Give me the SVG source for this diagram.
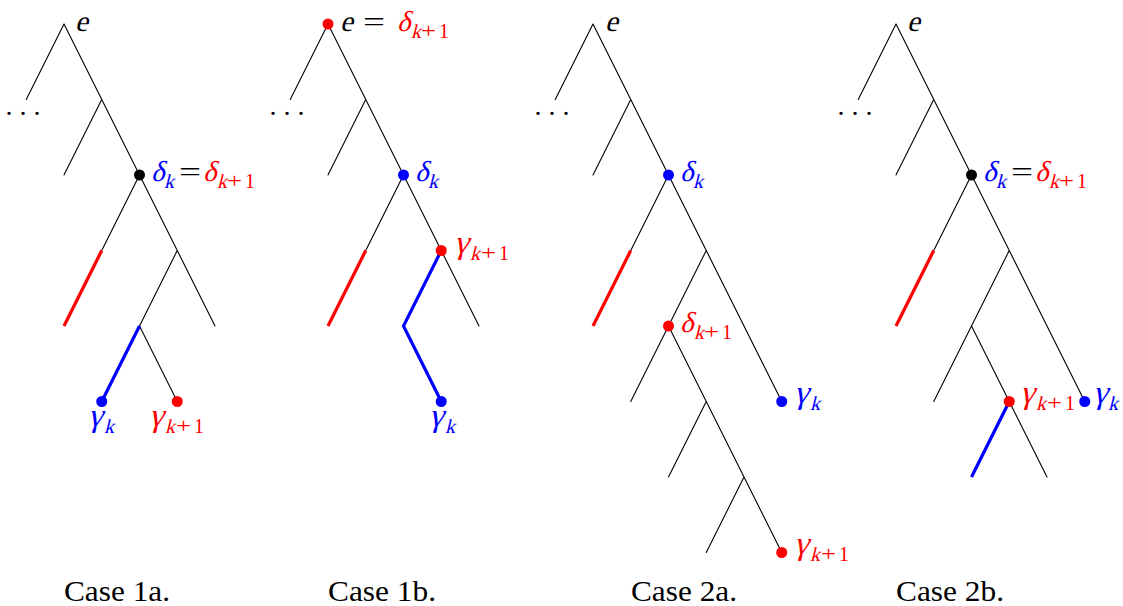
<svg xmlns="http://www.w3.org/2000/svg" width="1123" height="606" viewBox="0 0 1123 606">
<style>
.e{fill:none;stroke:#000;stroke-width:1.1;stroke-linecap:round;stroke-linejoin:round}
.r{fill:none;stroke:#ff0000;stroke-width:3.2}
.b{fill:none;stroke:#0000ff;stroke-width:3.2;stroke-linejoin:miter}
.dk{fill:#000}.dr{fill:#ff0000}.db{fill:#0000ff}
text{font-family:"Liberation Serif","Times New Roman",serif;font-style:normal}
.g{font-size:29px}
.gg{font-size:33px}
.gs{font-size:20px}
.u{font-size:28px}
.su{font-size:20px}
.cap{font-size:29px}
.R{fill:#ff0000}.B{fill:#0000ff}.K{fill:#000}
</style>
<rect width="1123" height="606" fill="#fff"/>

<g id="connectors">
  <!-- Case 1a, root 64 -->
  <path class="e" d="M64,24 L26.25,99.5 M64,24 L139.5,175 M101.75,99.5 L64,175 M139.5,175 L101.75,250.5 M139.5,175 L215,326 M177.25,250.5 L139.5,326 L177.25,401.5"/>
  <path class="r" d="M101.75,250.5 L64,326"/>
  <path class="b" d="M139.5,326 L101.75,401.5"/>
  <!-- Case 1b, root 328 -->
  <path class="e" d="M328,24 L290.25,99.5 M328,24 L403.5,175 M365.75,99.5 L328,175 M403.5,175 L365.75,250.5 M403.5,175 L479,326"/>
  <path class="r" d="M365.75,250.5 L328,326"/>
  <path class="b" d="M441.25,250.5 L403.5,326 L441.25,401.5"/>
  <!-- Case 2a, root 593 -->
  <path class="e" d="M593,24 L555.25,99.5 M593,24 L668.5,175 M630.75,99.5 L593,175 M668.5,175 L630.75,250.5 M668.5,175 L781.75,401.5 M706.25,250.5 L668.5,326 L630.75,401.5 M668.5,326 L781.75,552.5 M706.25,401.5 L668.5,477 M744,477 L706.25,552.5"/>
  <path class="r" d="M630.75,250.5 L593,326"/>
  <!-- Case 2b, root 896 -->
  <path class="e" d="M896,24 L858.25,99.5 M896,24 L971.5,175 M933.75,99.5 L896,175 M971.5,175 L933.75,250.5 M971.5,175 L1084.75,401.5 M1009.25,250.5 L971.5,326 L933.75,401.5 M971.5,326 L1047,477"/>
  <path class="r" d="M933.75,250.5 L896,326"/>
  <path class="b" d="M1009.25,401.5 L971.5,477"/>
</g>

<!-- Case 1a -->
<g id="c1a-root">
  <text class="g K" transform="translate(75 31) skewX(-14)">e</text>
  <text class="u K" x="5.5" y="115">. . .</text>
</g>
<g id="c1a-delta">
  <circle class="dk" cx="139.5" cy="175" r="5.5"/>
  <text class="g B" transform="translate(151 181) skewX(-14)">δ</text>
  <text class="gs B" transform="translate(164 188) skewX(-14)">k</text>
  <text class="u K" x="179" y="181" textLength="22" lengthAdjust="spacingAndGlyphs">=</text>
  <text class="g R" transform="translate(203 181) skewX(-14)">δ</text>
  <text class="gs R" transform="translate(217 188) skewX(-14)">k</text>
  <text class="su R" x="227" y="188" textLength="15" lengthAdjust="spacingAndGlyphs">+</text>
  <text class="su R" x="245" y="188">1</text>
</g>
<g id="c1a-gk">
  <circle class="db" cx="101.75" cy="401.5" r="5.5"/>
  <text class="gg B" transform="translate(88 426) skewX(-14)">γ</text>
  <text class="gs B" transform="translate(104 433) skewX(-14)">k</text>
</g>
<g id="c1a-gk1">
  <circle class="dr" cx="177.25" cy="401.5" r="5.5"/>
  <text class="gg R" transform="translate(149 426) skewX(-14)">γ</text>
  <text class="gs R" transform="translate(165 433) skewX(-14)">k</text>
  <text class="su R" x="176" y="433" textLength="15" lengthAdjust="spacingAndGlyphs">+</text>
  <text class="su R" x="194" y="433">1</text>
</g>

<!-- Case 1b -->
<g id="c1b-root">
  <circle class="dr" cx="328" cy="24" r="5.5"/>
  <text class="g K" transform="translate(340 31) skewX(-14)">e</text>
  <text class="u K" x="363" y="31" textLength="22" lengthAdjust="spacingAndGlyphs">=</text>
  <text class="g R" transform="translate(397 31) skewX(-14)">δ</text>
  <text class="gs R" transform="translate(411 38) skewX(-14)">k</text>
  <text class="su R" x="421" y="38" textLength="15" lengthAdjust="spacingAndGlyphs">+</text>
  <text class="su R" x="439" y="38">1</text>
  <text class="u K" x="269.5" y="115">. . .</text>
</g>
<g id="c1b-delta">
  <circle class="db" cx="403.5" cy="175" r="5.5"/>
  <text class="g B" transform="translate(415 181) skewX(-14)">δ</text>
  <text class="gs B" transform="translate(428 188) skewX(-14)">k</text>
</g>
<g id="c1b-gk1">
  <circle class="dr" cx="441.25" cy="250.5" r="5.5"/>
  <text class="gg R" transform="translate(454 253) skewX(-14)">γ</text>
  <text class="gs R" transform="translate(470 260) skewX(-14)">k</text>
  <text class="su R" x="481" y="260" textLength="15" lengthAdjust="spacingAndGlyphs">+</text>
  <text class="su R" x="499" y="260">1</text>
</g>
<g id="c1b-gk">
  <circle class="db" cx="441.25" cy="401.5" r="5.5"/>
  <text class="gg B" transform="translate(429 426) skewX(-14)">γ</text>
  <text class="gs B" transform="translate(445 433) skewX(-14)">k</text>
</g>

<!-- Case 2a -->
<g id="c2a-root">
  <text class="g K" transform="translate(605 31) skewX(-14)">e</text>
  <text class="u K" x="534.5" y="115">. . .</text>
</g>
<g id="c2a-delta">
  <circle class="db" cx="668.5" cy="175" r="5.5"/>
  <text class="g B" transform="translate(680 181) skewX(-14)">δ</text>
  <text class="gs B" transform="translate(693 188) skewX(-14)">k</text>
</g>
<g id="c2a-delta1">
  <circle class="dr" cx="668.5" cy="326" r="5.5"/>
  <text class="g R" transform="translate(680 332) skewX(-14)">δ</text>
  <text class="gs R" transform="translate(694 339) skewX(-14)">k</text>
  <text class="su R" x="704" y="339" textLength="15" lengthAdjust="spacingAndGlyphs">+</text>
  <text class="su R" x="722" y="339">1</text>
</g>
<g id="c2a-gk">
  <circle class="db" cx="781.75" cy="401.5" r="5.5"/>
  <text class="gg B" transform="translate(794 403) skewX(-14)">γ</text>
  <text class="gs B" transform="translate(810 410) skewX(-14)">k</text>
</g>
<g id="c2a-gk1">
  <circle class="dr" cx="781.75" cy="552.5" r="5.5"/>
  <text class="gg R" transform="translate(794 554) skewX(-14)">γ</text>
  <text class="gs R" transform="translate(810 561) skewX(-14)">k</text>
  <text class="su R" x="821" y="561" textLength="15" lengthAdjust="spacingAndGlyphs">+</text>
  <text class="su R" x="839" y="561">1</text>
</g>

<!-- Case 2b -->
<g id="c2b-root">
  <text class="g K" transform="translate(907 31) skewX(-14)">e</text>
  <text class="u K" x="837.5" y="115">. . .</text>
</g>
<g id="c2b-delta">
  <circle class="dk" cx="971.5" cy="175" r="5.5"/>
  <text class="g B" transform="translate(983 181) skewX(-14)">δ</text>
  <text class="gs B" transform="translate(996 188) skewX(-14)">k</text>
  <text class="u K" x="1011" y="181" textLength="22" lengthAdjust="spacingAndGlyphs">=</text>
  <text class="g R" transform="translate(1035 181) skewX(-14)">δ</text>
  <text class="gs R" transform="translate(1049 188) skewX(-14)">k</text>
  <text class="su R" x="1059" y="188" textLength="15" lengthAdjust="spacingAndGlyphs">+</text>
  <text class="su R" x="1077" y="188">1</text>
</g>
<g id="c2b-gk1">
  <circle class="dr" cx="1009.25" cy="401.5" r="5.5"/>
  <text class="gg R" transform="translate(1020 403) skewX(-14)">γ</text>
  <text class="gs R" transform="translate(1036 410) skewX(-14)">k</text>
  <text class="su R" x="1047" y="410" textLength="15" lengthAdjust="spacingAndGlyphs">+</text>
  <text class="su R" x="1065" y="410">1</text>
</g>
<g id="c2b-gk">
  <circle class="db" cx="1084.75" cy="401.5" r="5.5"/>
  <text class="gg B" transform="translate(1093 403) skewX(-14)">γ</text>
  <text class="gs B" transform="translate(1108 410) skewX(-14)">k</text>
</g>

<!-- Captions -->
<g id="captions">
  <text class="cap K" x="64" y="601" textLength="106" lengthAdjust="spacingAndGlyphs">Case 1a.</text>
  <text class="cap K" x="328" y="601" textLength="108" lengthAdjust="spacingAndGlyphs">Case 1b.</text>
  <text class="cap K" x="631" y="601" textLength="106" lengthAdjust="spacingAndGlyphs">Case 2a.</text>
  <text class="cap K" x="896" y="601" textLength="108" lengthAdjust="spacingAndGlyphs">Case 2b.</text>
</g>
</svg>
